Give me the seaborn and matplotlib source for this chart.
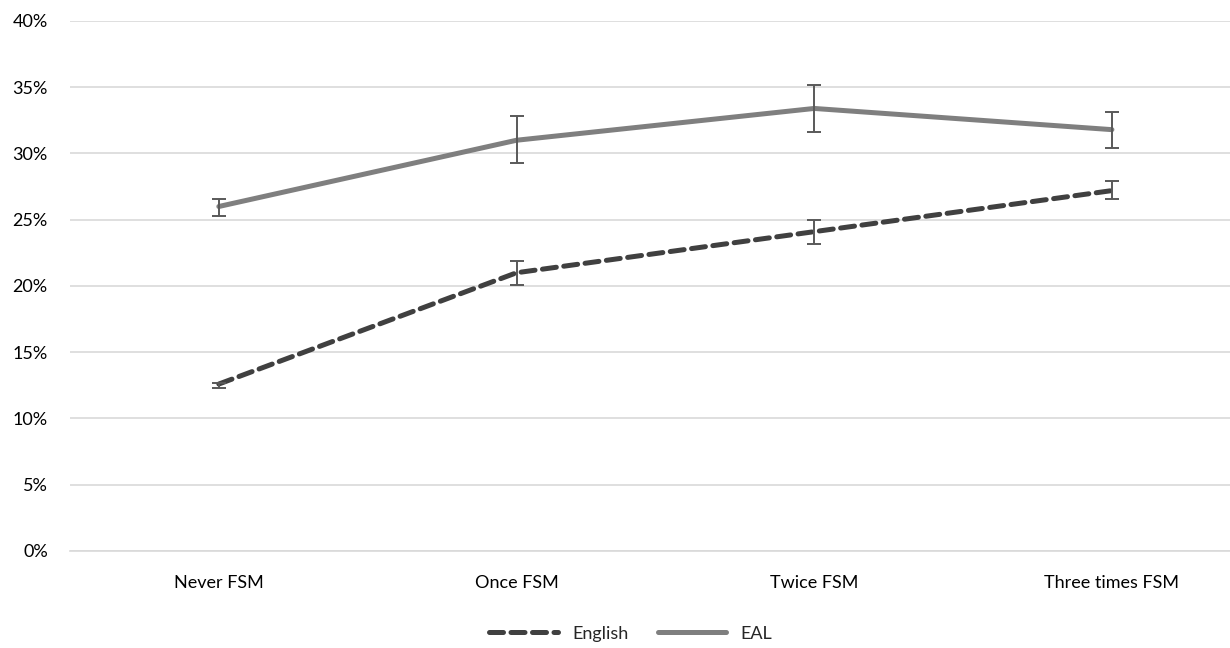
import numpy as np
import pandas as pd
import matplotlib
matplotlib.use('Agg')
import matplotlib.pyplot as plt
import seaborn as sns
from matplotlib.ticker import PercentFormatter

# values
categories = ['Never FSM', 'Once FSM', 'Twice FSM', 'Three times FSM']
english = [12.6, 21.0, 24.1, 27.2]
english_lo = [12.3, 20.1, 23.2, 26.6]
english_hi = [12.7, 21.9, 25.0, 27.9]
eal = [26.0, 31.0, 33.4, 31.8]
eal_lo = [25.3, 29.3, 31.6, 30.4]
eal_hi = [26.6, 32.8, 35.2, 33.1]
y_ticks = [0, 5, 10, 15, 20, 25, 30, 35, 40]

sns.set_theme(style='white')
plt.rcParams['font.family'] = ['Lato', 'DejaVu Sans']

df = pd.DataFrame({
    'x': list(range(len(categories))) * 2,
    'value': english + eal,
    'group': ['English'] * 4 + ['EAL'] * 4,
})

fig, ax = plt.subplots(figsize=(12.3, 6.48), dpi=100)
# plot area runs past the right edge, as in the cropped reference
fig.subplots_adjust(left=0.0569, right=1.025, top=0.9676, bottom=0.1497)

sns.lineplot(data=df, x='x', y='value', hue='group', style='group',
             palette={'English': '#404040', 'EAL': '#7f7f7f'},
             dashes={'English': (2.8, 1.5), 'EAL': ''},
             linewidth=3.6, ax=ax, legend=True)
for line in ax.get_lines():
    line.set_dash_capstyle('round')
    line.set_clip_on(False)

xs = np.arange(len(categories))
for vals, lo, hi in [(english, english_lo, english_hi), (eal, eal_lo, eal_hi)]:
    vals = np.array(vals)
    yerr = [vals - np.array(lo), np.array(hi) - vals]
    ax.errorbar(xs, vals, yerr=yerr, fmt='none', ecolor='#595959',
                elinewidth=1.4, capsize=5, capthick=1.4, zorder=5)

ax.set_xlim(-0.5, len(categories) - 0.5)
ax.set_ylim(0, 40)
ax.set_yticks(y_ticks)
ax.yaxis.set_major_formatter(PercentFormatter(decimals=0))
ax.set_xticks(xs)
ax.set_xticklabels(categories)
ax.set_xlabel('')
ax.set_ylabel('')
ax.grid(axis='y', color='#d9d9d9', linewidth=1.2)
ax.set_axisbelow(True)
for s in ['top', 'right', 'left']:
    ax.spines[s].set_visible(False)
ax.spines['bottom'].set_color('#d9d9d9')
ax.spines['bottom'].set_linewidth(1.2)
ax.tick_params(axis='both', length=0, labelsize=13, colors='#000000')
ax.tick_params(axis='y', pad=16)
ax.tick_params(axis='x', pad=17)

handles, labels = ax.get_legend_handles_labels()
ax.legend().remove()
fig.legend(handles, labels, loc='center', bbox_to_anchor=(0.513, 0.022),
           ncol=2, frameon=False, fontsize=13, handlelength=3.8,
           columnspacing=1.6, handletextpad=0.8)

fig.savefig('out.png', dpi=100)
